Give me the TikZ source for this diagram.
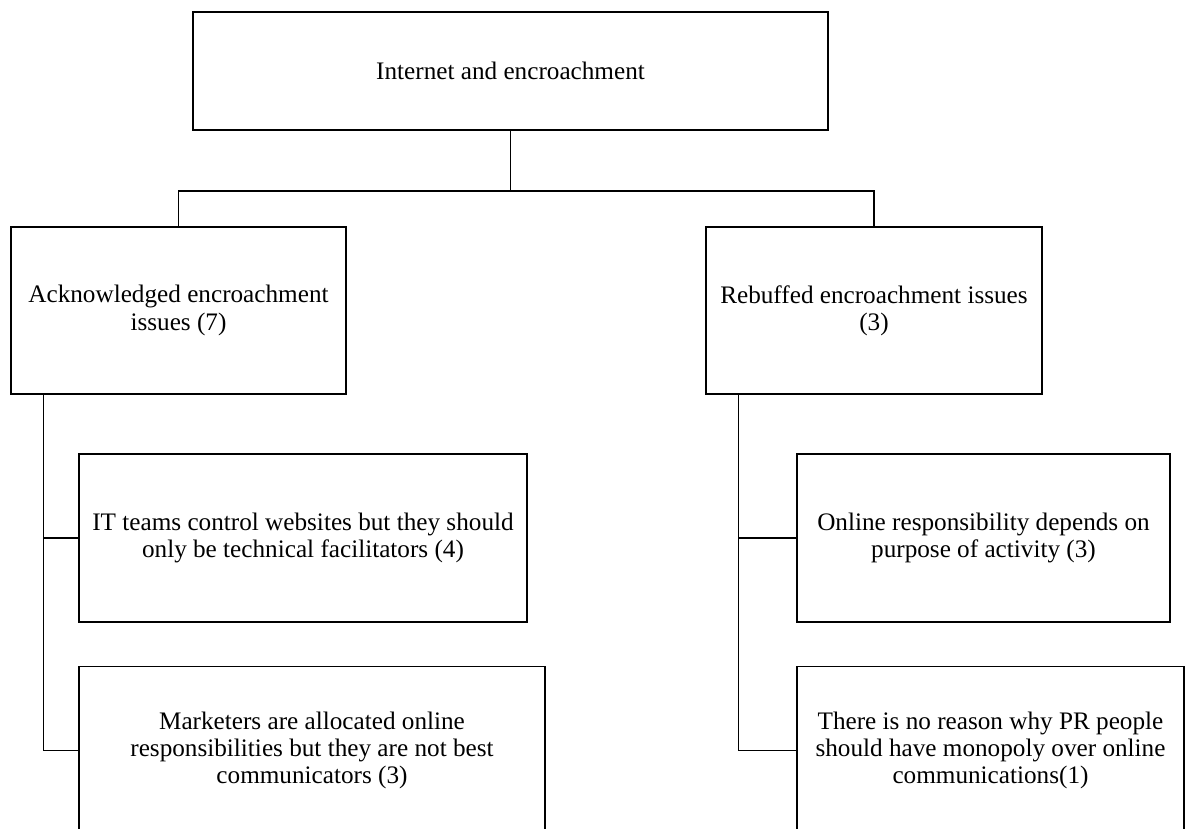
\documentclass[tikz,border=0pt]{standalone}
\usepackage{fontspec}
\setmainfont{Liberation Serif}
\usetikzlibrary{calc}
\begin{document}
\begin{tikzpicture}[x=1pt,y=-1pt,
  box/.style={draw=black, line width=1.4pt, fill=white, inner sep=0pt,
    align=center, font=\fontsize{25.2}{27.2}\selectfont},
  link/.style={draw=black, line width=1.3pt}]
  \useasboundingbox (0,0) rectangle (1187,829);
  \clip (0,0) rectangle (1187,829);

  % top level
  \node[box, minimum width=635pt, minimum height=118pt] (top) at (510.5,71)
    {Internet and encroachment};

  % second level
  \node[box, minimum width=335pt, minimum height=167pt] (ack) at (178.5,310.5)
    {Acknowledged encroachment\\issues (7)};
  \node[box, minimum width=336pt, minimum height=167pt] (reb) at (874,310.5)
    {Rebuffed encroachment issues\\(3)};

  % third level, left branch
  \node[box, minimum width=448pt, minimum height=168pt] (it) at (303,538)
    {IT teams control websites but they should\\only be technical facilitators (4)};
  \node[box, minimum width=466pt, minimum height=168pt] (mk) at (312,750.5)
    {Marketers are allocated online\\responsibilities but they are not best\\communicators (3)};

  % third level, right branch
  \node[box, minimum width=373pt, minimum height=168pt] (on) at (983.5,538)
    {Online responsibility depends on\\purpose of activity (3)};
  \node[box, minimum width=387pt, minimum height=168pt] (th) at (990.5,750.5)
    {There is no reason why PR people\\should have monopoly over online\\communications(1)};

  % connectors
  \coordinate (hub) at (510.5,191);
  \draw[link] (top.south) -- (hub);
  \draw[link] (ack.north) |- (hub) -| (reb.north);

  \coordinate (ltrunk) at ($(ack.south west)+(33,0)$);
  \coordinate (rtrunk) at ($(reb.south west)+(33,0)$);
  \draw[link] (ltrunk) |- (it.west);
  \draw[link] (ltrunk) |- (mk.west);
  \draw[link] (rtrunk) |- (on.west);
  \draw[link] (rtrunk) |- (th.west);
\end{tikzpicture}
\end{document}
